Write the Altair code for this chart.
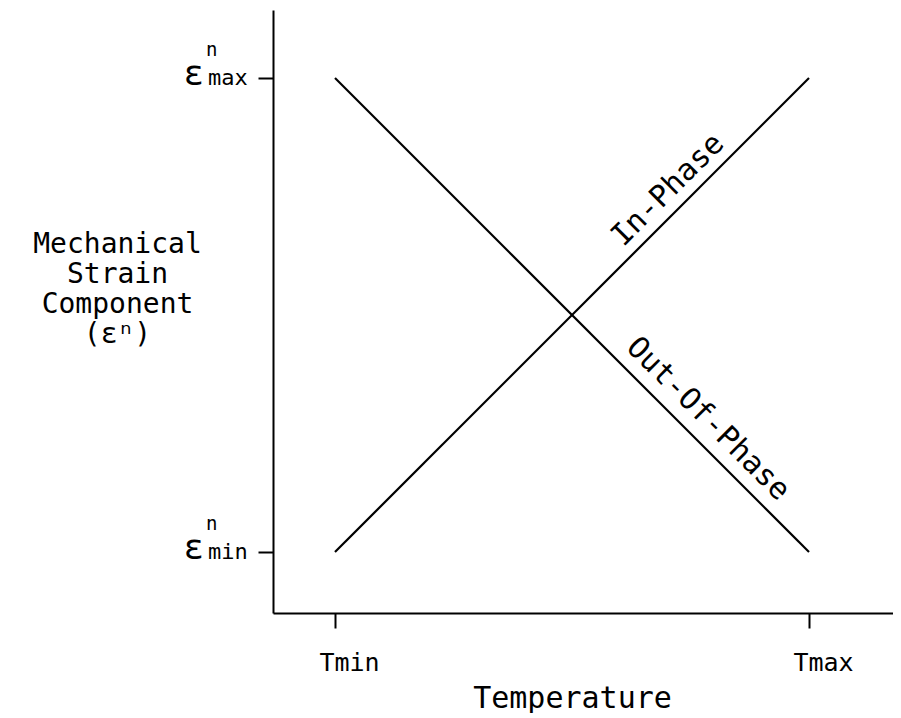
import altair as alt
import pandas as pd

# ---- data ----
temp_pos = [0, 1]
temp_labels = ["Tmin", "Tmax"]
in_phase = [0, 1]
out_phase = [1, 0]
series = ["In-Phase", "Out-Of-Phase"]
strain_pos = [1, 0]
strain_sub = ["max", "min"]
strain_sup = ["n", "n"]
label_T = [0.7025, 0.787]
label_E = [0.7637, 0.2806]
label_angle = [315, 45]
y_title = ["Mechanical", "Strain", "Component", "(εⁿ)"]
x_title = "Temperature"

FONT = "DejaVu Sans Mono"

lines_df = pd.DataFrame({
    "T": temp_pos + temp_pos,
    "E": in_phase + out_phase,
    "s": [series[0]] * 2 + [series[1]] * 2,
})
labels_df = pd.DataFrame({"T": label_T, "E": label_E, "a": label_angle, "txt": series})
strain_df = pd.DataFrame({"E": strain_pos, "sub": strain_sub, "sup": strain_sup})

xs = alt.Scale(domain=[-0.1308, 1.1772], nice=False, zero=False)
ys = alt.Scale(domain=[-0.1287, 1.1435], nice=False, zero=False)

x_axis = alt.Axis(
    values=temp_pos,
    labelExpr=f"datum.value == {temp_pos[0]} ? '{temp_labels[0]}' : '{temp_labels[1]}'",
    labelFont=FONT, labelFontSize=25, labelColor="black", labelPadding=22,
    labelOffset=14, labelBaseline="top",
    tickSize=15, tickWidth=2, tickColor="black",
    domainColor="black", domainWidth=2, grid=False,
    title=x_title, titleFont=FONT, titleFontSize=30, titleFontWeight="normal",
    titleColor="black", titleX=299, titleY=94, titleBaseline="alphabetic",
    titleAlign="center",
)
y_axis = alt.Axis(
    values=strain_pos, labels=False,
    tickSize=15, tickWidth=2, tickColor="black",
    domainColor="black", domainWidth=2, grid=False,
    title=y_title, titleFont=FONT, titleFontSize=28, titleFontWeight="normal",
    titleColor="black", titleAngle=0, titleAlign="center", titleBaseline="top",
    titleX=-156, titleY=220, titleLineHeight=30,
)

lines = alt.Chart(lines_df).mark_line(color="black", strokeWidth=2.2).encode(
    x=alt.X("T:Q", scale=xs, axis=x_axis),
    y=alt.Y("E:Q", scale=ys, axis=y_axis),
    detail="s:N",
)

line_labels = alt.Chart(labels_df).mark_text(
    font=FONT, fontSize=30, color="black", align="center", baseline="middle"
).encode(
    x=alt.X("T:Q", scale=xs),
    y=alt.Y("E:Q", scale=ys),
    angle=alt.Angle("a:Q", scale=None),
    text="txt:N",
)

eps = alt.Chart(strain_df).mark_text(
    font=FONT, fontSize=34, color="black", align="right", baseline="alphabetic", dy=7
).encode(
    x=alt.value(-69),
    y=alt.Y("E:Q", scale=ys),
    text=alt.value("ε"),
)
sup = alt.Chart(strain_df).mark_text(
    font=FONT, fontSize=19, color="black", align="left", baseline="alphabetic", dy=-22
).encode(
    x=alt.value(-67),
    y=alt.Y("E:Q", scale=ys),
    text="sup:N",
)
sub = alt.Chart(strain_df).mark_text(
    font=FONT, fontSize=22, color="black", align="left", baseline="alphabetic", dy=7
).encode(
    x=alt.value(-65),
    y=alt.Y("E:Q", scale=ys),
    text="sub:N",
)

chart = alt.layer(lines, line_labels, eps, sup, sub).properties(
    width=620, height=603,
    padding={"left": 265, "top": 2, "right": 0, "bottom": 100},
    autosize=alt.AutoSizeParams(type="none"),
    background="white",
).configure_view(stroke=None)

chart.save("out.html", embed_options={"renderer": "svg", "actions": False})
